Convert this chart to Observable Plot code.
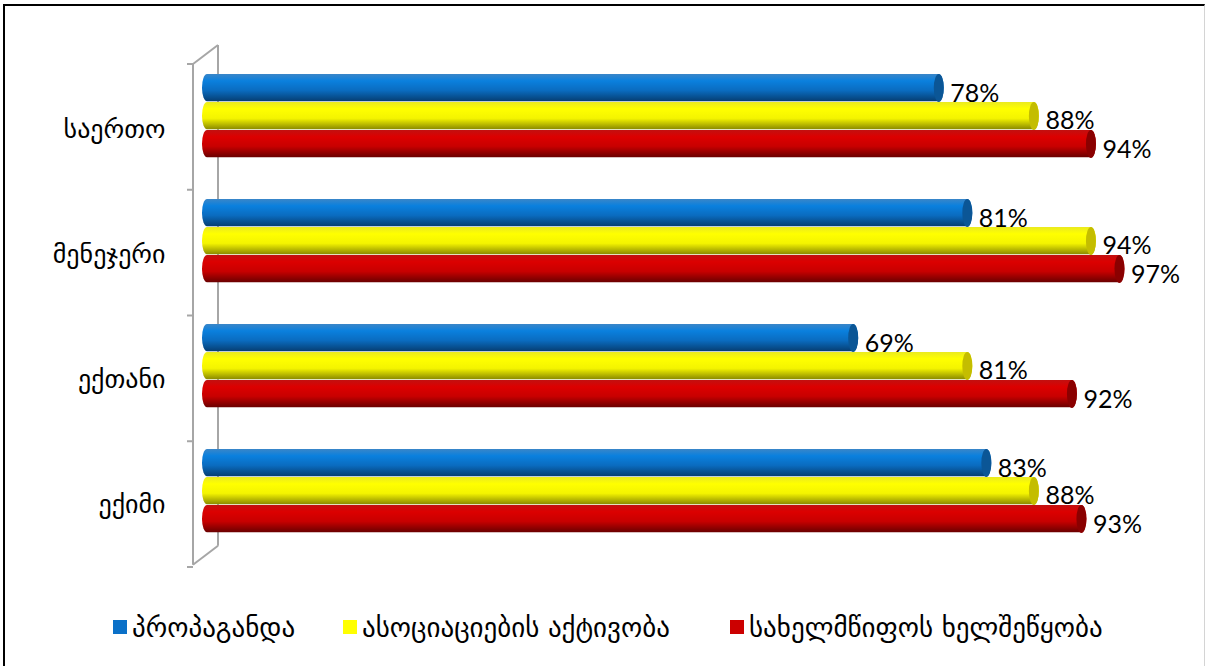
<!DOCTYPE html>
<html>
<head>
<meta charset="utf-8">
<script src="https://cdn.jsdelivr.net/npm/d3@7"></script>
<script src="https://cdn.jsdelivr.net/npm/@observablehq/plot@0.6"></script>
<style>
  body { margin: 0; background: #fff; }
  #wrap { position: relative; width: 1207px; height: 666px; overflow: hidden; }
  #frame { position: absolute; left: 3px; top: 4px; width: 1202px; height: 680px;
           border-left: 2px solid #000; border-top: 2px solid #000; border-right: 1px solid #d4d4d4;
           box-sizing: border-box; pointer-events: none; }
  #legend { position: absolute; left: 0; top: 612px; height: 30px; width: 1207px;
            font-family: "DejaVu Sans", sans-serif; font-size: 27px; color: #000; }
  .item { position: absolute; top: 0; display: flex; align-items: center; height: 30px; white-space: nowrap; }
  .sw { width: 14px; height: 14px; margin-right: 5px; }
</style>
</head>
<body>
<div id="wrap">
  <div id="chart"></div>
  <div id="legend"></div>
  <div id="frame"></div>
</div>
<script>
// Survey categories (top to bottom) and the three series, in percent
const categories = ["საერთო", "მენეჯერი", "ექთანი", "ექიმი"];
const seriesNames = ["პროპაგანდა", "ასოციაციების აქტივობა", "სახელმწიფოს ხელშეწყობა"];
const propaganda = [78, 81, 69, 83];
const associations = [88, 94, 81, 88];
const stateSupport = [94, 97, 92, 93];

const seriesValues = [propaganda, associations, stateSupport];
const colors = ["#0a70c8", "#ffff00", "#cc0000"];
const capColors = ["#0b5696", "#c4bd00", "#8a0000"];
const gradIds = ["cyl-blue", "cyl-yellow", "cyl-red"];

// Layout of the cylinders inside each category band (px from band top)
const bandTopInset = [10, 38, 66];
const barH = 28;
const labelDy = [-33, -6, 23];

const W = 1207, H = 605;
const marginTop = 62, marginBottom = 40, marginLeft = 202, marginRight = 54;
const bandH = (H - marginTop - marginBottom) / categories.length;

const rows = seriesValues.map((vals, s) =>
  categories.map((c, i) => ({category: c, series: seriesNames[s], value: vals[i], s}))
);

const marks = [];
rows.forEach((data, s) => {
  marks.push(Plot.barX(data, {
    x: "value", y: "category",
    fill: `url(#${gradIds[s]})`,
    insetTop: bandTopInset[s],
    insetBottom: bandH - bandTopInset[s] - barH,
    rx: 5, ry: barH / 2
  }));
});
rows.forEach((data, s) => {
  marks.push(Plot.text(data, {
    x: "value", y: "category",
    text: d => `${d.value}%`,
    textAnchor: "start", dx: 6, dy: labelDy[s],
    fontSize: 25, fill: "#000"
  }));
});

const plot = Plot.plot({
  width: W, height: H,
  marginTop, marginBottom, marginLeft, marginRight,
  style: {fontFamily: "Lato, 'DejaVu Sans', sans-serif", background: "transparent", overflow: "visible"},
  x: {domain: [0, 100], axis: null},
  y: {domain: categories, padding: 0, axis: null, label: null},
  marks: [
    Plot.axisY({tickSize: 0, tickPadding: 37, fontSize: 26, dy: 3, label: null,
                fontFamily: "'DejaVu Sans', sans-serif", fill: "#000"}),
    ...marks
  ]
});
document.getElementById("chart").appendChild(plot);

const svg = d3.select(plot);
svg.selectAll("text").attr("fill", "#000");

// Cylinder shading gradients
const defs = svg.insert("defs", ":first-child");
const stops = [
  [["0", "#3a86c8"], ["0.25", "#0a80de"], ["0.6", "#0a6cc0"], ["1", "#063e72"]],
  [["0", "#eaea20"], ["0.25", "#ffff00"], ["0.6", "#f4f400"], ["1", "#8a8a00"]],
  [["0", "#c21010"], ["0.25", "#dc0000"], ["0.6", "#c80000"], ["1", "#6a0000"]]
];
gradIds.forEach((id, s) => {
  const g = defs.append("linearGradient").attr("id", id)
    .attr("x1", 0).attr("y1", 0).attr("x2", 0).attr("y2", 1);
  stops[s].forEach(([o, c]) => g.append("stop").attr("offset", o).attr("stop-color", c));
});

const X = plot.scale("x"), Y = plot.scale("y");
const x0 = X.apply(0);
const yTop = Y.apply(categories[0]);
const yBottom = Y.apply(categories[categories.length - 1]) + bandH;

// 3D side wall and category ticks, behind the bars
const wall = svg.insert("g", "g").attr("stroke", "#a6a6a6").attr("stroke-width", 2).attr("fill", "none");
const front = x0 - 9, back = x0 + 16, depth = 19;
wall.append("line").attr("x1", front).attr("x2", front).attr("y1", yTop).attr("y2", yBottom);
wall.append("line").attr("x1", back).attr("x2", back).attr("y1", yTop - depth).attr("y2", yBottom - depth);
wall.append("line").attr("x1", front).attr("x2", back).attr("y1", yTop).attr("y2", yTop - depth);
wall.append("line").attr("x1", front).attr("x2", back).attr("y1", yBottom).attr("y2", yBottom - depth);
for (let i = 0; i <= categories.length; i++) {
  const ty = yTop + i * bandH;
  wall.append("line").attr("x1", front - 6).attr("x2", front).attr("y1", ty).attr("y2", ty);
}

// Elliptical end caps at the value end of each cylinder
const caps = svg.append("g");
rows.forEach((data, s) => {
  data.forEach(d => {
    const ex = X.apply(d.value);
    const cy = Y.apply(d.category) + bandTopInset[s] + barH / 2;
    caps.append("ellipse").attr("cx", ex - 5).attr("cy", cy).attr("rx", 5).attr("ry", barH / 2)
      .attr("fill", capColors[s]);
  });
});
// keep value labels above caps
svg.selectAll("g[aria-label='text']").raise();

// Legend
const legendX = [113, 343, 730];
const legend = d3.select("#legend");
seriesNames.forEach((name, s) => {
  const item = legend.append("div").attr("class", "item").style("left", legendX[s] + "px");
  item.append("div").attr("class", "sw").style("background", colors[s]);
  item.append("span").text(name);
});
</script>
</body>
</html>
